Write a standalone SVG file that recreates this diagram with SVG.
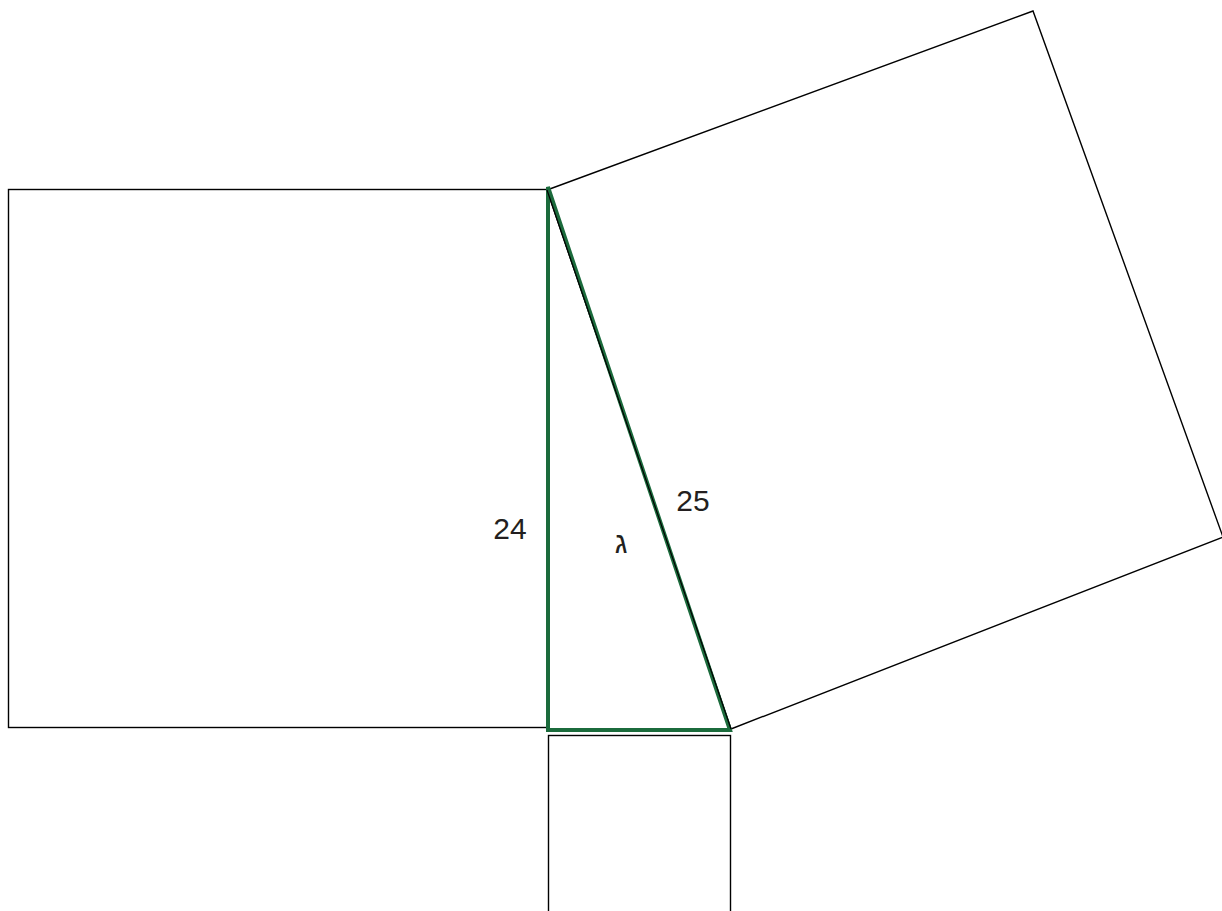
<svg xmlns="http://www.w3.org/2000/svg" width="1222" height="911" viewBox="0 0 1222 911">
<style>
.sq{fill:none;stroke:#000;stroke-width:1.4}
.tri{fill:none;stroke:#1b6b3c;stroke-width:4;stroke-linejoin:miter}
.lbl{font-family:"Liberation Sans","DejaVu Sans",Arial,sans-serif;font-size:30px;fill:#231f20}
</style>
<rect width="1222" height="911" fill="#fff"/>
<g id="square-left"><rect class="sq" x="8.5" y="189.5" width="539" height="538"/></g>
<g id="square-bottom"><rect class="sq" x="548.5" y="735.5" width="182" height="190"/></g>
<g id="square-hyp"><polygon class="sq" points="547,190 1033,11 1223,537 731,729"/></g>
<g id="connectors">
<polygon class="tri" points="548,187 548,730 730,730"/>
<line x1="547" y1="190" x2="731" y2="729" stroke="#000" stroke-width="1.2"/>
</g>
<g id="labels">
<text class="lbl" x="510" y="539" text-anchor="middle">24</text>
<text class="lbl" x="693" y="511" text-anchor="middle">25</text>
<text class="lbl" x="621" y="553" text-anchor="middle">ג</text>
</g>
</svg>
